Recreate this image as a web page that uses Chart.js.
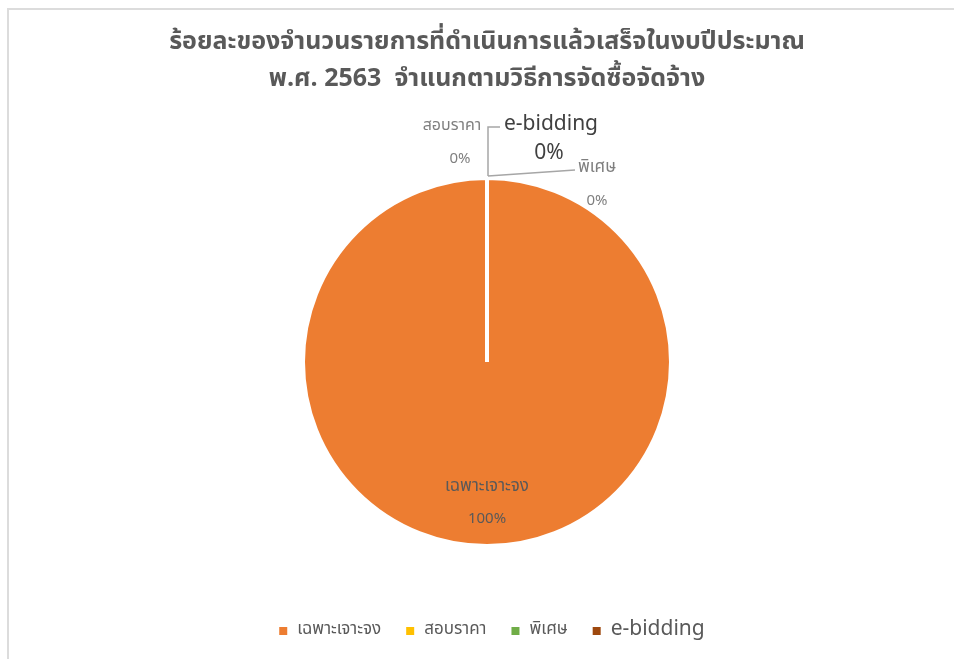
<!DOCTYPE html>
<html>
<head>
<meta charset="utf-8">
<script src="https://cdn.jsdelivr.net/npm/chart.js@4"></script>
<style>
    html, body { margin: 0; padding: 0; background: #fff; overflow: hidden; }
    #frame {
        position: absolute; left: 7px; top: 8px; width: 1000px; height: 700px;
        border-left: 2px solid #dcdcdc; border-top: 2px solid #dcdcdc;
    }
    #chart { position: absolute; left: 0; top: 0; }
</style>
</head>
<body>
<div id="frame"></div>
<canvas id="chart" width="954" height="659"></canvas>
<script>
// Data
const titleLines = ['ร้อยละของจำนวนรายการที่ดำเนินการแล้วเสร็จในงบปีประมาณ', 'พ.ศ. 2563  จำแนกตามวิธีการจัดซื้อจัดจ้าง'];
const categories = ['เฉพาะเจาะจง', 'สอบราคา', 'พิเศษ', 'e-bidding'];
const values = [100, 0, 0, 0];

const sliceColors = ['#ed7d31', '#ffc000', '#70ad47', '#9e480e'];
const thaiFont = '"Noto Sans Thai", "Leelawadee UI", Tahoma, "Noto Sans", sans-serif';
const total = values.reduce((a, b) => a + b, 0);
const pct = v => Math.round(v / total * 100) + '%';

// --- Title + custom legend (e-bidding uses a bigger font, like the original) ---
const decorPlugin = {
    id: 'decor',
    afterDraw(chart) {
        const ctx = chart.ctx;
        ctx.save();
        ctx.fillStyle = '#595959';
        ctx.textAlign = 'center';
        ctx.textBaseline = 'middle';
        ctx.font = 'bold 25px ' + thaiFont;
        ctx.fillText(titleLines[0], 487, 44);
        ctx.fillText(titleLines[1], 487, 81);

        // legend
        const fontFor = i => (categories[i] === 'e-bidding' ? '21px ' : '17px ') + thaiFont;
        const box = 8, gapText = 10, gapItem = 25;
        let widths = categories.map((c, i) => { ctx.font = fontFor(i); return box + gapText + ctx.measureText(c).width; });
        let totalW = widths.reduce((a, b) => a + b, 0) + gapItem * (categories.length - 1);
        let x = 492 - totalW / 2;
        const y = 631;
        ctx.textAlign = 'left';
        categories.forEach((c, i) => {
            ctx.fillStyle = sliceColors[i];
            ctx.fillRect(x, y - box / 2, box, box);
            ctx.fillStyle = '#595959';
            ctx.font = fontFor(i);
            ctx.fillText(c, x + box + gapText, y);
            x += widths[i] + gapItem;
        });
        ctx.restore();
    }
};

// --- Data labels with leader lines ---
const labelPlugin = {
    id: 'sliceLabels',
    afterDatasetsDraw(chart) {
        const ctx = chart.ctx;
        const arcs = chart.getDatasetMeta(0).data;
        ctx.save();
        ctx.textAlign = 'center';
        ctx.textBaseline = 'middle';
        values.forEach((v, i) => {
            const arc = arcs[i];
            const { x, y, startAngle, endAngle, outerRadius } = arc.getProps(['x', 'y', 'startAngle', 'endAngle', 'outerRadius'], true);
            if (v > 0) {
                const mid = (startAngle + endAngle) / 2;
                const r = outerRadius * 0.76;
                const lx = x + Math.cos(mid) * r, ly = y + Math.sin(mid) * r;
                ctx.fillStyle = '#595959';
                ctx.font = '17px ' + thaiFont;
                ctx.fillText(categories[i], lx, ly - 14);
                ctx.font = '15px ' + thaiFont;
                ctx.fillText(pct(v), lx, ly + 18);
                return;
            }
            // zero slices sit at the top of the pie; offset the labels like the original
            const ax = x + Math.cos(startAngle) * outerRadius;
            const ay = y + Math.sin(startAngle) * outerRadius - 2;
            ctx.strokeStyle = '#a6a6a6';
            ctx.lineWidth = 1.5;
            ctx.beginPath();
            if (categories[i] === 'สอบราคา') {
                ctx.moveTo(ax + 1, ay); ctx.lineTo(ax + 1, ay - 49); ctx.lineTo(ax + 13, ay - 49);
                ctx.stroke();
                ctx.fillStyle = '#7f7f7f';
                ctx.font = '16px ' + thaiFont;
                ctx.fillText(categories[i], ax - 35, ay - 49);
                ctx.font = '15px ' + thaiFont;
                ctx.fillText(pct(v), ax - 27, ay - 16);
            } else if (categories[i] === 'พิเศษ') {
                ctx.moveTo(ax + 1, ay); ctx.lineTo(ax + 88, ay - 6);
                ctx.stroke();
                ctx.fillStyle = '#7f7f7f';
                ctx.font = '17px ' + thaiFont;
                ctx.fillText(categories[i], ax + 110, ay - 7);
                ctx.font = '15px ' + thaiFont;
                ctx.fillText(pct(v), ax + 110, ay + 26);
            } else {
                ctx.fillStyle = '#404040';
                ctx.font = '21px ' + thaiFont;
                ctx.fillText(categories[i], ax + 64, ay - 50);
                ctx.fillText(pct(v), ax + 62, ay - 21);
            }
        });
        ctx.restore();
    }
};

const ctx = document.getElementById('chart').getContext('2d');
new Chart(ctx, {
    type: 'pie',
    data: {
        labels: categories,
        datasets: [{
            data: values,
            backgroundColor: sliceColors,
            borderColor: '#ffffff',
            borderWidth: 4
        }]
    },
    options: {
        responsive: false,
        animation: false,
        layout: { padding: { top: 176, bottom: 111, left: 20, right: 0 } },
        plugins: {
            legend: { display: false },
            title: { display: false },
            tooltip: { enabled: false }
        }
    },
    plugins: [labelPlugin, decorPlugin]
});
</script>
</body>
</html>
